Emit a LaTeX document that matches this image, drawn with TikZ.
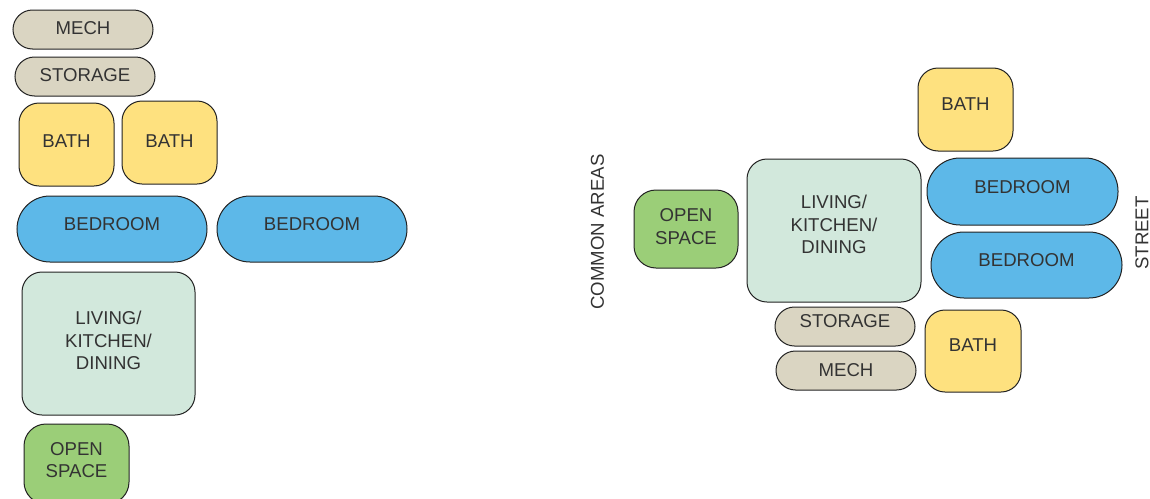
\documentclass[tikz,border=0pt]{standalone}
\usepackage{fontspec}
\setmainfont{Liberation Sans}
\definecolor{beige}{HTML}{DAD5C2}
\definecolor{yel}{HTML}{FEE17F}
\definecolor{blu}{HTML}{5DB8E8}
\definecolor{pale}{HTML}{D2E8DC}
\definecolor{grn}{HTML}{9BCE78}
\definecolor{ink}{HTML}{333333}
\definecolor{edge}{HTML}{222222}
\tikzset{
  room/.style={draw=edge, line width=1pt, rectangle, inner sep=0pt},
  pill/.style={room, rounded corners=19.5pt},
  pillbig/.style={room, rounded corners=33pt},
  boxr/.style={room, rounded corners=20pt},
  lbl/.style={text=ink, font=\fontsize{18.6}{22.5}\selectfont, align=center, inner sep=0pt},
}
\begin{document}
\begin{tikzpicture}[x=1pt,y=-1pt]
\useasboundingbox (0,0) rectangle (1150,498);
% ---------- left layout ----------
\node[pill, fill=beige, minimum width=140pt, minimum height=39pt] (mechA) at (83,29.5) {};
\node[lbl] (mechAl) at ([yshift=1.5pt]mechA.center) {MECH};
\node[pill, fill=beige, minimum width=140pt, minimum height=39pt] (storA) at (85,76.5) {};
\node[lbl] (storAl) at ([yshift=1.5pt]storA.center) {STORAGE};
\node[boxr, fill=yel, minimum width=95pt, minimum height=83pt] (bathA) at (66.5,144.5) {};
\node[lbl] (bathAl) at ([yshift=3.5pt]bathA.center) {BATH};
\node[boxr, fill=yel, minimum width=95pt, minimum height=83pt] (bathB) at (169.5,142.5) {};
\node[lbl] (bathBl) at ([yshift=1.5pt]bathB.center) {BATH};
\node[pillbig, fill=blu, minimum width=190pt, minimum height=66pt] (bedA) at (112,229) {};
\node[lbl] (bedAl) at ([yshift=5pt]bedA.center) {BEDROOM};
\node[pillbig, fill=blu, minimum width=190pt, minimum height=66pt] (bedB) at (312,229) {};
\node[lbl] (bedBl) at ([yshift=5pt]bedB.center) {BEDROOM};
\node[boxr, fill=pale, minimum width=173pt, minimum height=143pt] (livA) at (108.5,343.5) {};
\node[lbl] (livAl) at ([yshift=3pt]livA.center) {LIVING/\\KITCHEN/\\DINING};
\node[boxr, rounded corners=22pt, fill=grn, minimum width=105pt, minimum height=80pt] (openA) at (76.5,464) {};
\node[lbl] (openAl) at ([yshift=4pt]openA.center) {OPEN\\SPACE};
% ---------- right layout ----------
\node[boxr, fill=yel, minimum width=95pt, minimum height=83pt] (bathC) at (965.5,109.5) {};
\node[lbl] (bathCl) at ([yshift=5pt]bathC.center) {BATH};
\node[boxr, fill=pale, minimum width=174pt, minimum height=143pt] (livB) at (834,230.5) {};
\node[lbl] (livBl) at ([yshift=6pt]livB.center) {LIVING/\\KITCHEN/\\DINING};
\node[pillbig, fill=blu, minimum width=191pt, minimum height=67pt] (bedC) at (1022.5,191.5) {};
\node[lbl] (bedCl) at ([yshift=4pt]bedC.center) {BEDROOM};
\node[pillbig, fill=blu, minimum width=191pt, minimum height=66pt] (bedD) at (1026.5,265) {};
\node[lbl] (bedDl) at ([yshift=5pt]bedD.center) {BEDROOM};
\node[boxr, rounded corners=22pt, fill=grn, minimum width=104pt, minimum height=78pt] (openB) at (686,229) {};
\node[lbl] (openBl) at ([yshift=2.5pt]openB.center) {OPEN\\SPACE};
\node[pill, fill=beige, minimum width=140pt, minimum height=39pt] (storB) at (845,326.5) {};
\node[lbl] (storBl) at ([yshift=5pt]storB.center) {STORAGE};
\node[pill, fill=beige, minimum width=140pt, minimum height=39pt] (mechB) at (846,370.5) {};
\node[lbl] (mechBl) at ([yshift=0.5pt]mechB.center) {MECH};
\node[boxr, fill=yel, minimum width=96pt, minimum height=82pt] (bathD) at (973,351) {};
\node[lbl] (bathDl) at ([yshift=6pt]bathD.center) {BATH};
% ---------- side labels ----------
\node[lbl, rotate=90] (common) at (597.5,232) {COMMON AREAS};
\node[lbl, rotate=90] (street) at (1142,233) {STREET};
\end{tikzpicture}
\end{document}
